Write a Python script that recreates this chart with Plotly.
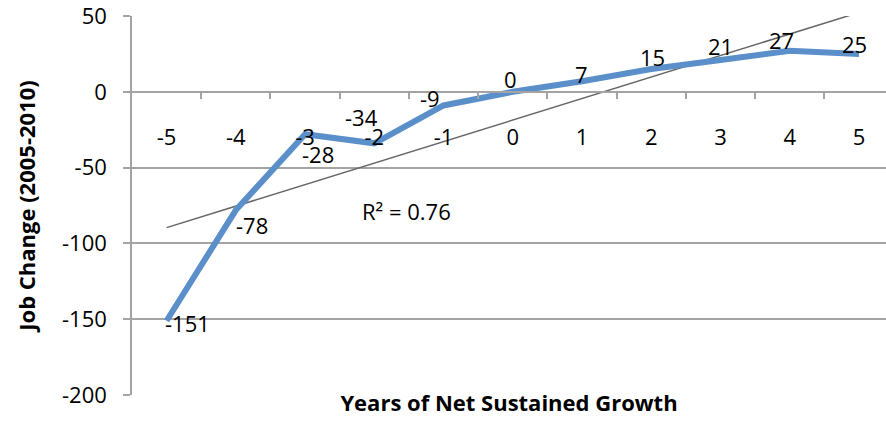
import numpy as np
import plotly.graph_objects as go

# Years of net sustained growth vs. job change
years = [-5, -4, -3, -2, -1, 0, 1, 2, 3, 4, 5]
job_change = [-151, -78, -28, -34, -9, 0, 7, 15, 21, 27, 25]
y_ticks = [50, 0, -50, -100, -150, -200]

# pixel offsets of each value label relative to its point
label_dx = [21, 16, 13, -13, -14, -2, -1, 1, 0, -8, -5]
label_dy = [-2, -15, -20, 26, 7, 13, 7, 12, 14, 11, 10]

FONT = "Open Sans"
GRID = "#a3a3a3"
SIZE = 22

x = np.array(years, dtype=float)
y = np.array(job_change, dtype=float)
slope, intercept = np.polyfit(x, y, 1)
fit = slope * x + intercept
r2 = 1 - np.sum((y - fit) ** 2) / np.sum((y - y.mean()) ** 2)

x_range = [-5.5, 5.39]

fig = go.Figure()

# linear trendline
fig.add_trace(go.Scatter(
    x=years, y=fit, mode="lines",
    line=dict(color="#666666", width=1.5),
    hoverinfo="skip", showlegend=False,
))

# main series
fig.add_trace(go.Scatter(
    x=years, y=job_change, mode="lines",
    line=dict(color="#5b8fca", width=6),
    showlegend=False,
))

# value labels
for xv, yv, dx, dy in zip(years, job_change, label_dx, label_dy):
    fig.add_annotation(
        x=xv, y=yv, text=str(yv), showarrow=False,
        xshift=dx, yshift=dy,
        font=dict(family=FONT, size=SIZE, color="#000000"),
    )

# R² label
fig.add_annotation(
    x=-1.54, y=-78.5, text=f"R² = {r2:.2f}", showarrow=False,
    font=dict(family=FONT, size=SIZE, color="#000000"),
)

fig.update_layout(
    width=886, height=430,
    margin=dict(l=132, r=0, t=16, b=35),
    paper_bgcolor="white", plot_bgcolor="white",
    xaxis=dict(
        range=x_range, showgrid=False, zeroline=False,
        showticklabels=False, ticks="", showline=False,
        title=dict(text="<b>Years of Net Sustained Growth</b>",
                   font=dict(family=FONT, size=22, color="#000000"),
                   standoff=0),
    ),
    # category axis crossing at y = 0: tick marks between categories
    xaxis2=dict(
        overlaying="x", anchor="free", position=0.8, side="bottom",
        range=x_range, showgrid=False, zeroline=False,
        showline=True, linecolor=GRID, linewidth=1.5,
        tickvals=[v + 0.5 for v in years[:-1]],
        ticks="outside", ticklen=6, tickcolor=GRID, tickwidth=1.5,
        showticklabels=False,
    ),
    # category labels
    xaxis3=dict(
        overlaying="x", anchor="free", position=0.8, side="bottom",
        range=x_range, showgrid=False, zeroline=False, showline=False,
        tickvals=years, ticktext=[str(v) for v in years],
        ticks="", ticklabelstandoff=30,
        tickfont=dict(family=FONT, size=SIZE, color="#000000"),
    ),
    yaxis=dict(
        range=[-200, 50], tickvals=y_ticks,
        ticktext=[str(v) for v in y_ticks],
        ticklabeloverflow="allow",
        showgrid=True, gridcolor=GRID, gridwidth=1.5,
        zeroline=False, showline=True, linecolor=GRID, linewidth=1.5,
        ticks="outside", ticklen=7, tickcolor=GRID, tickwidth=1.5,
        tickfont=dict(family=FONT, size=SIZE, color="#000000"),
        ticklabelstandoff=12,
        title=dict(text="<b>Job Change (2005-2010)</b>",
                   font=dict(family=FONT, size=22, color="#000000"),
                   standoff=20),
    ),
)

# invisible traces so the overlay axes get drawn
for ax in ("x2", "x3"):
    fig.add_trace(go.Scatter(x=[None], y=[None], xaxis=ax, showlegend=False,
                             hoverinfo="skip"))

fig.write_html("out.html")
